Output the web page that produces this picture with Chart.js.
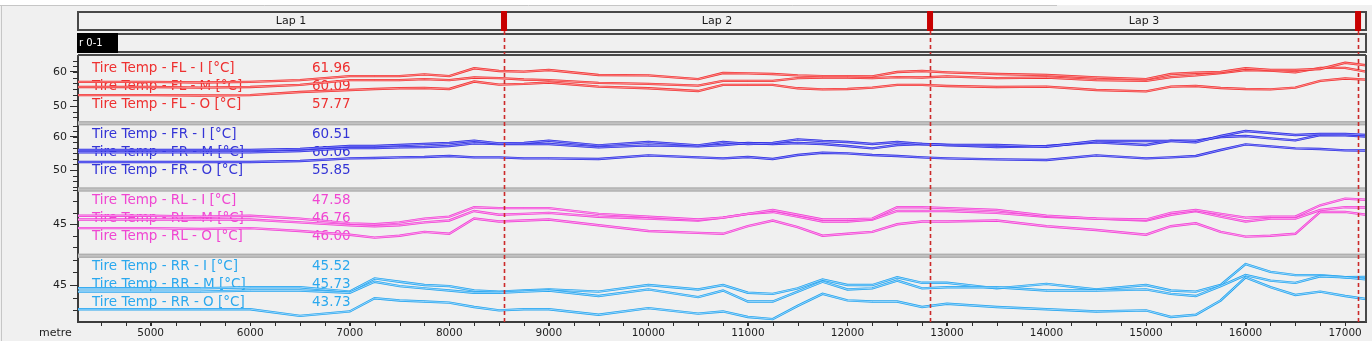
<!DOCTYPE html>
<html>
<head>
<meta charset="utf-8">
<title>Tire Temp</title>
<script src="https://cdn.jsdelivr.net/npm/chart.js@4.4.1/dist/chart.umd.min.js"></script>
<style>
  html, body { margin: 0; padding: 0; background: #f0f0f0; }
</style>
</head>
<body>
<canvas id="tyres" width="1372" height="341"></canvas>
<script>
// distance along the run (metres)
const distance = [4270, 4500, 5000, 5500, 6000, 6500, 7000, 7250, 7500, 7750, 8000, 8250, 8500, 8750, 9000, 9500, 10000, 10500, 10750, 11000, 11250, 11500, 11750, 12000, 12250, 12500, 12750, 13000, 13500, 14000, 14500, 15000, 15250, 15500, 15750, 16000, 16250, 16500, 16750, 17000, 17210];

const lapNames = ['Lap 1', 'Lap 2', 'Lap 3'];
const lapEnds = [8550, 12830, 17130];
const rangeName = 'r 0-1';

const xTickLabels = [5000, 6000, 7000, 8000, 9000, 10000, 11000, 12000, 13000, 14000, 15000, 16000, 17000];
const xMinorStep = 250;
const frontTickLabels = [50, 60];
const rearTickLabels = [45];

// tyre temperatures, inner / middle / outer, degC
const flI = [57.1, 57.1, 57.1, 56.9, 57.1, 57.6, 58.8, 58.8, 58.8, 59.3, 58.8, 61.1, 60.3, 60.1, 60.6, 59.1, 59.0, 57.9, 59.7, 59.6, 59.4, 59.0, 58.8, 58.8, 58.7, 60.0, 60.3, 59.9, 59.4, 59.1, 58.4, 57.9, 59.4, 59.8, 60.0, 61.1, 60.6, 60.6, 60.9, 62.7, 61.96];
const flM = [55.6, 55.6, 55.6, 55.4, 55.6, 56.2, 57.6, 57.6, 57.6, 57.9, 57.6, 58.4, 58.2, 57.8, 57.6, 56.8, 56.5, 56.0, 57.4, 57.4, 57.4, 58.2, 58.4, 58.4, 58.2, 58.5, 58.4, 58.7, 58.2, 58.4, 57.6, 57.4, 58.5, 59.0, 59.7, 60.6, 60.4, 59.9, 61.2, 61.2, 60.09];
const flO = [53.2, 53.2, 53.2, 53.1, 53.2, 54.1, 54.7, 55.0, 55.2, 55.3, 55.0, 57.2, 56.3, 56.5, 56.9, 55.7, 55.2, 54.4, 56.2, 56.2, 56.2, 55.2, 54.9, 55.0, 55.4, 56.2, 56.2, 55.9, 55.6, 55.7, 54.7, 54.3, 55.7, 55.9, 55.3, 55.0, 54.9, 55.4, 57.4, 58.1, 57.77];

const frI = [56.0, 56.0, 56.0, 56.0, 56.0, 56.3, 57.2, 57.2, 57.5, 57.8, 58.1, 58.8, 58.0, 58.1, 58.8, 57.4, 58.4, 57.4, 58.4, 57.8, 58.1, 59.2, 58.7, 58.4, 57.8, 58.4, 57.8, 57.5, 57.5, 57.0, 58.7, 58.7, 58.7, 58.3, 60.2, 61.7, 61.1, 60.5, 60.8, 60.8, 60.51];
const frM = [55.3, 55.3, 55.3, 55.3, 55.3, 55.7, 56.6, 56.6, 56.8, 56.9, 57.2, 58.0, 57.8, 57.8, 57.8, 56.8, 57.4, 57.1, 57.5, 58.1, 57.8, 58.1, 57.8, 57.2, 56.5, 57.5, 57.8, 57.5, 56.9, 57.2, 58.3, 57.5, 58.8, 58.8, 59.9, 60.2, 59.5, 58.9, 60.5, 60.4, 60.06];
const frO = [52.4, 52.4, 52.4, 52.4, 52.4, 52.7, 53.5, 53.6, 53.8, 53.9, 54.2, 53.8, 53.8, 53.5, 53.5, 53.3, 54.4, 53.8, 53.5, 53.9, 53.3, 54.5, 55.2, 55.0, 54.5, 54.2, 53.8, 53.5, 53.2, 53.0, 54.4, 53.5, 53.8, 54.2, 56.0, 57.7, 57.1, 56.5, 56.3, 55.9, 55.85];

const rlI = [45.9, 45.9, 45.9, 45.8, 45.9, 45.6, 45.1, 45.0, 45.2, 45.6, 45.8, 46.8, 46.7, 46.7, 46.7, 46.1, 45.8, 45.5, 45.7, 46.1, 46.5, 46.0, 45.5, 45.5, 45.6, 46.8, 46.8, 46.7, 46.5, 45.9, 45.6, 45.5, 46.2, 46.5, 46.1, 45.7, 45.8, 45.8, 47.0, 47.7, 47.58];
const rlM = [45.5, 45.5, 45.5, 45.5, 45.5, 45.2, 44.9, 44.8, 44.9, 45.2, 45.4, 46.4, 46.0, 46.1, 46.2, 45.8, 45.6, 45.4, 45.7, 46.1, 46.3, 45.8, 45.3, 45.3, 45.5, 46.4, 46.4, 46.4, 46.2, 45.8, 45.6, 45.4, 46.0, 46.4, 45.8, 45.3, 45.6, 45.6, 46.5, 46.8, 46.76];
const rlO = [44.6, 44.6, 44.6, 44.5, 44.6, 44.3, 43.9, 43.6, 43.8, 44.2, 44.0, 45.6, 45.3, 45.4, 45.5, 44.9, 44.3, 44.1, 44.0, 44.8, 45.4, 44.7, 43.8, 44.0, 44.2, 45.0, 45.3, 45.3, 45.4, 44.8, 44.4, 43.9, 44.8, 45.1, 44.2, 43.7, 43.8, 44.0, 46.3, 46.3, 46.00];

const rrI = [44.4, 44.4, 44.4, 44.4, 44.5, 44.5, 44.3, 45.3, 44.9, 44.7, 44.5, 44.3, 44.3, 44.4, 44.5, 44.0, 44.6, 43.9, 44.5, 43.5, 43.5, 44.4, 45.3, 44.6, 44.7, 45.4, 44.7, 44.8, 44.8, 44.5, 44.5, 44.6, 44.2, 44.0, 44.9, 45.9, 45.4, 45.2, 45.8, 45.7, 45.52];
const rrM = [44.7, 44.7, 44.7, 44.7, 44.8, 44.8, 44.4, 45.6, 45.3, 45.0, 44.9, 44.5, 44.4, 44.5, 44.6, 44.4, 45.0, 44.6, 45.0, 44.3, 44.2, 44.7, 45.5, 45.0, 45.0, 45.7, 45.2, 45.2, 44.7, 45.1, 44.6, 45.0, 44.5, 44.4, 45.0, 46.9, 46.2, 45.9, 45.9, 45.7, 45.73];
const rrO = [42.8, 42.8, 42.8, 42.8, 42.8, 42.2, 42.6, 43.8, 43.6, 43.5, 43.4, 43.0, 42.7, 42.8, 42.8, 42.3, 42.9, 42.4, 42.6, 42.1, 41.9, 43.1, 44.2, 43.6, 43.5, 43.5, 43.0, 43.3, 43.0, 42.8, 42.6, 42.7, 42.1, 42.3, 43.6, 45.7, 44.8, 44.1, 44.4, 44.0, 43.73];

const positions = ['I', 'M', 'O'];

// one stacked y axis per corner, listed top to bottom
const panes = [
    { id: 'yFL', corner: 'FL', series: [flI, flM, flO], min: 44.93, max: 64.41, labels: frontTickLabels, minor: 10 / 6, colour: '#f03232', core: '#ffa0a0', text: '#ee3030' },
    { id: 'yFR', corner: 'FR', series: [frI, frM, frO], min: 44.15, max: 64.04, labels: frontTickLabels, minor: 10 / 6, colour: '#2c2ce0', core: '#9a9aff', text: '#3434d6' },
    { id: 'yRL', corner: 'RL', series: [rlI, rlM, rlO], min: 41.69, max: 48.66, labels: rearTickLabels, minor: 1.2, colour: '#f040d4', core: '#ffb0f2', text: '#f046d2' },
    { id: 'yRR', corner: 'RR', series: [rrI, rrM, rrO], min: 41.64, max: 47.66, labels: rearTickLabels, minor: 1.15, colour: '#24a4ee', core: '#b0e0ff', text: '#2aa8ee' },
];

const FONT = "'DejaVu Sans', sans-serif";
const AXIS_INK = '#2e2e2e';

const datasets = [];
panes.forEach(p => p.series.forEach((values, k) => datasets.push({
    label: `Tire Temp - ${p.corner} - ${positions[k]} [°C]`,
    data: values.map((v, i) => ({ x: distance[i], y: v })),
    yAxisID: p.id,
    borderColor: p.colour,
    borderWidth: 2.4,
    pointRadius: 0,
    tension: 0,
    fill: false,
    core: p.core,
})));

function minorValues(base, step, min, max) {
    const out = [];
    for (let k = Math.ceil((min - base) / step); k <= Math.floor((max - base) / step); k++) out.push(base + k * step);
    return out;
}

const scales = {
    x: {
        type: 'linear', position: 'bottom', min: distance[0], max: distance[distance.length - 1],
        afterBuildTicks: s => { s.ticks = xTickLabels.map(v => ({ value: v })); },
        afterFit: s => { s.height = 19; },
        grid: { drawOnChartArea: false, tickLength: 4, color: AXIS_INK },
        border: { color: '#3c3c3c', width: 2 },
        ticks: {
            autoSkip: false, maxRotation: 0, padding: 1, color: '#1e1e1e',
            font: { family: FONT, size: 10.5 },
            callback: v => String(v),
        },
    },
};

// stacked left axes are laid out last-defined first, so add them bottom up
panes.slice().reverse().forEach(p => {
    scales[p.id] = {
        type: 'linear', position: 'left', stack: 'tyres', stackWeight: 1,
        min: p.min, max: p.max,
        afterBuildTicks: s => { s.ticks = p.labels.map(v => ({ value: v })); },
        afterFit: s => { s.width = 78; },
        grid: { drawOnChartArea: false, tickLength: 8, color: AXIS_INK },
        border: { color: '#3c3c3c', width: 2 },
        ticks: {
            autoSkip: false, padding: 3, color: '#1e1e1e',
            font: { family: FONT, size: 11 },
            callback: v => String(v),
        },
    };
});

const runSheet = {
    id: 'runSheet',
    beforeDraw(chart) {
        const { ctx, width, height, chartArea: a, scales: { x } } = chart;
        ctx.save();
        ctx.fillStyle = '#f0f0f0';
        ctx.fillRect(0, 0, width, height);
        ctx.fillStyle = '#ffffff';
        ctx.fillRect(0, 0, width, 5);
        ctx.strokeStyle = '#c6c6c6';
        ctx.lineWidth = 1;
        ctx.beginPath();
        ctx.moveTo(0, 5.5); ctx.lineTo(1057, 5.5);
        ctx.moveTo(1.5, 5.5); ctx.lineTo(1.5, height);
        ctx.stroke();

        // lap bar
        const bounds = [x.min, ...lapEnds];
        ctx.strokeStyle = '#484848';
        ctx.lineWidth = 2;
        ctx.strokeRect(a.left, 12, a.right - a.left, 18);
        ctx.fillStyle = '#1a1a1a';
        ctx.font = `11px ${FONT}`;
        ctx.textAlign = 'center';
        ctx.textBaseline = 'middle';
        lapNames.forEach((name, i) => {
            const x0 = x.getPixelForValue(bounds[i]), x1 = x.getPixelForValue(bounds[i + 1]);
            ctx.fillText(name, (x0 + x1) / 2, 21.5);
        });
        ctx.fillStyle = '#c80000';
        lapEnds.forEach(d => {
            const px = x.getPixelForValue(d);
            ctx.fillRect(px - 3, 11, 6, 20);
        });

        // range bar
        ctx.strokeStyle = '#484848';
        ctx.strokeRect(a.left, 34, a.right - a.left, 18);
        ctx.fillStyle = '#000000';
        ctx.fillRect(a.left - 1, 33, 41, 20);
        ctx.fillStyle = '#ffffff';
        ctx.textAlign = 'left';
        ctx.font = `10px ${FONT}`;
        ctx.fillText(rangeName, a.left + 1, 43.5);

        // distance unit
        ctx.fillStyle = '#1e1e1e';
        ctx.font = `11px ${FONT}`;
        ctx.fillText('metre', 39, 333);
        ctx.restore();
    },
    beforeDatasetsDraw(chart) {
        const { ctx } = chart;
        ctx.save();
        ctx.font = `13.5px ${FONT}`;
        ctx.textBaseline = 'middle';
        ctx.textAlign = 'left';
        panes.forEach(p => {
            const s = chart.scales[p.id];
            p.series.forEach((values, k) => {
                const y = s.top + 11 + k * 18;
                ctx.fillStyle = p.text;
                ctx.fillText(`Tire Temp - ${p.corner} - ${positions[k]} [°C]`, 92, y);
                ctx.fillText(values[values.length - 1].toFixed(2), 312, y);
            });
        });
        ctx.restore();
    },
    afterDatasetDraw(chart, args) {
        const pts = args.meta.data;
        const ds = chart.data.datasets[args.index];
        const { ctx } = chart;
        ctx.save();
        ctx.strokeStyle = ds.core;
        ctx.lineWidth = 0.8;
        ctx.beginPath();
        pts.forEach((pt, i) => i ? ctx.lineTo(pt.x, pt.y) : ctx.moveTo(pt.x, pt.y));
        ctx.stroke();
        ctx.restore();
    },
    afterDatasetsDraw(chart) {
        const { ctx, chartArea: a, scales: { x } } = chart;
        ctx.save();
        // pane separators
        panes.slice(1).forEach(p => {
            const top = chart.scales[p.id].top;
            ctx.fillStyle = '#c2c2c2';
            ctx.fillRect(a.left, top - 2, a.right - a.left, 4);
            ctx.fillStyle = '#a9a9a9';
            ctx.fillRect(a.left, top - 2, a.right - a.left, 1);
            ctx.fillRect(a.left, top + 1, a.right - a.left, 1);
        });
        // lap markers
        ctx.strokeStyle = '#cc2a2a';
        ctx.lineWidth = 1.6;
        ctx.setLineDash([4, 3]);
        lapEnds.forEach(d => {
            const px = Math.round(x.getPixelForValue(d)) + 0.5;
            ctx.beginPath();
            ctx.moveTo(px, 31);
            ctx.lineTo(px, a.bottom);
            ctx.stroke();
        });
        ctx.setLineDash([]);

        // minor tick marks on every axis
        ctx.strokeStyle = AXIS_INK;
        ctx.lineWidth = 1;
        ctx.beginPath();
        panes.forEach(p => {
            const s = chart.scales[p.id];
            minorValues(p.labels[0], p.minor, p.min, p.max).forEach(v => {
                const py = Math.round(s.getPixelForValue(v)) + 0.5;
                if (py < s.top + 1 || py > s.bottom - 1) return;
                ctx.moveTo(a.left - 5, py); ctx.lineTo(a.left, py);
            });
        });
        minorValues(xTickLabels[0], xMinorStep, x.min, x.max).forEach(v => {
            const px = Math.round(x.getPixelForValue(v)) + 0.5;
            ctx.moveTo(px, a.bottom); ctx.lineTo(px, a.bottom + 4);
        });
        ctx.stroke();

        // plot frame
        ctx.strokeStyle = '#484848';
        ctx.lineWidth = 2;
        ctx.beginPath();
        ctx.moveTo(a.left, 55); ctx.lineTo(a.right, 55);
        ctx.moveTo(a.right, 55); ctx.lineTo(a.right, a.bottom);
        ctx.moveTo(a.left, 55); ctx.lineTo(a.left, a.top);
        ctx.stroke();
        ctx.restore();
    },
};

new Chart(document.getElementById('tyres'), {
    type: 'line',
    data: { datasets },
    options: {
        responsive: false,
        animation: false,
        layout: { padding: { top: 57, right: 6, left: 0, bottom: 0 } },
        scales,
        plugins: { legend: { display: false }, tooltip: { enabled: false } },
    },
    plugins: [runSheet],
});
</script>
</body>
</html>
